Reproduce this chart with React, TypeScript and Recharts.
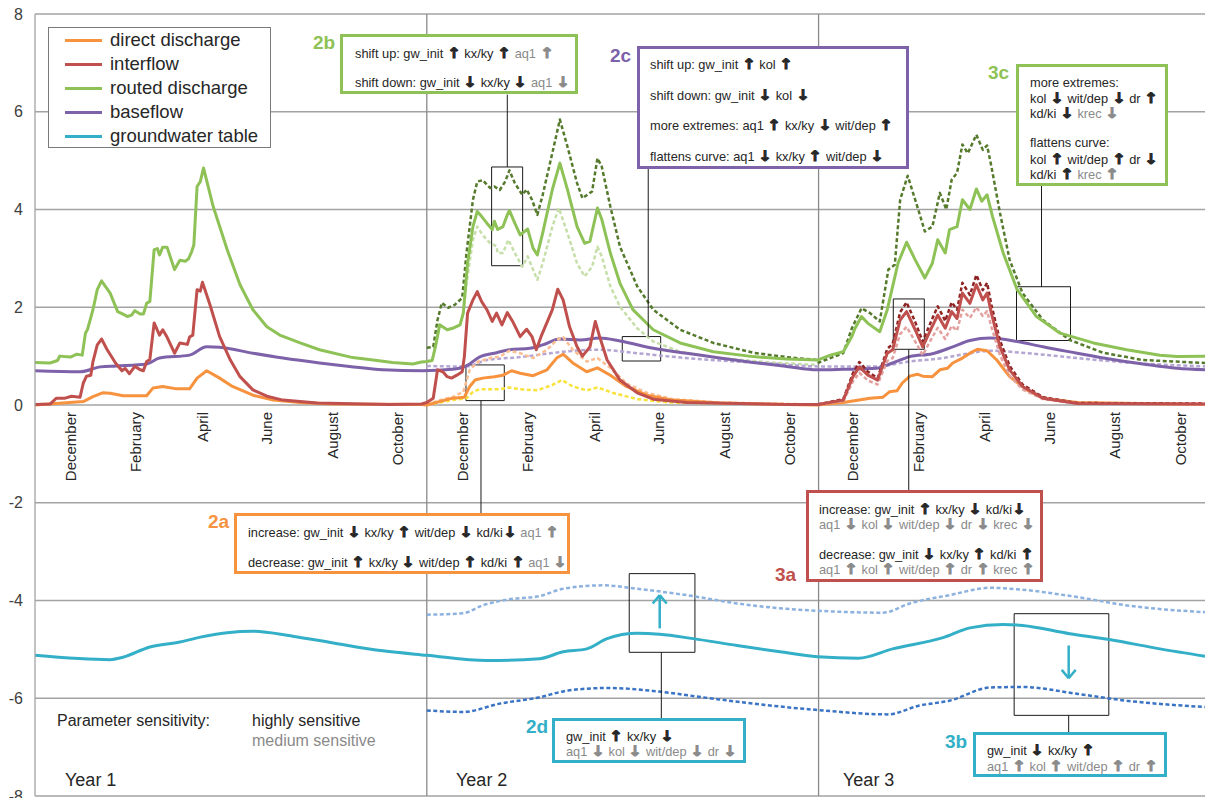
import React from 'react';
import {
  LineChart, Line, XAxis, YAxis, CartesianGrid, ReferenceLine, ReferenceArea, ReferenceDot,
} from 'recharts';

// ---------- data (x = day since start of year 1, y = value) ----------
const directDischarge = [
  [0,0],[45,0.07],[54,0.17],[63,0.25],[70,0.24],[82,0.19],[104,0.19],[110,0.35],[119,0.38],[132,0.33],[144,0.33],[151,0.55],[160,0.70],[172,0.55],[184,0.38],[203,0.20],[222,0.10],[247,0.05],[278,0.02],[360,0.01],
  [365,0],[389,0.14],[400,0.16],[405,0.38],[410,0.51],[417,0.55],[428,0.58],[436,0.61],[444,0.70],[452,0.65],[464,0.60],[477,0.72],[486,0.96],[492,1.04],[501,0.86],[514,0.68],[524,0.76],[536,0.61],[551,0.38],[570,0.20],[594,0.10],[638,0.04],[700,0.01],
  [729,0],[753,0.05],[778,0.14],[790,0.16],[796,0.27],[803,0.29],[808,0.45],[815,0.59],[822,0.63],[827,0.59],[836,0.58],[843,0.72],[850,0.75],[855,0.86],[864,0.96],[871,1.06],[878,1.14],[887,1.11],[896,0.92],[908,0.58],[924,0.31],[939,0.14],[971,0.05],[1090,0.01],
];
const directHigh = [
  [365,0],[377,0.10],[389,0.16],[399,0.27],[405,0.72],[413,0.89],[424,0.96],[433,0.99],[442,1.11],[452,1.06],[464,0.96],[477,1.13],[486,1.33],[492,1.39],[501,1.13],[514,0.89],[524,0.96],[536,0.76],[551,0.44],[570,0.25],[594,0.12],[638,0.05],[729,0.01],
];
const directLow = [
  [365,0],[389,0.10],[402,0.14],[408,0.27],[414,0.32],[433,0.32],[442,0.36],[452,0.32],[468,0.30],[482,0.41],[491,0.51],[501,0.38],[514,0.30],[524,0.36],[538,0.25],[561,0.12],[592,0.05],[729,0.01],
];
const interflow = [
  [0,0.01],[14,0.02],[20,0.14],[28,0.14],[34,0.18],[42,0.16],[45,0.45],[48,0.59],[52,0.61],[54,0.89],[58,1.23],[62,1.35],[67,1.14],[75,0.86],[81,0.70],[84,0.75],[88,0.64],[93,0.79],[98,0.72],[101,0.70],[104,0.89],[107,0.93],[111,1.68],[116,1.43],[119,1.54],[123,1.39],[130,1.06],[135,1.27],[142,1.24],[144,1.39],[147,1.43],[151,2.36],[154,2.33],[156,2.51],[163,2.05],[172,1.40],[182,0.92],[191,0.58],[203,0.31],[216,0.18],[231,0.10],[263,0.04],[330,0.01],[360,0.02],
  [365,0.05],[371,0.14],[375,0.72],[380,0.68],[384,0.58],[388,0.55],[393,0.61],[398,0.68],[400,0.99],[403,1.88],[408,2.15],[412,2.32],[416,2.12],[421,1.95],[426,1.71],[430,1.88],[435,1.64],[440,1.89],[445,1.71],[452,1.40],[458,1.55],[463,1.40],[467,1.13],[472,1.43],[478,1.74],[482,1.95],[487,2.37],[492,2.15],[498,1.60],[505,1.19],[510,1.00],[517,1.19],[522,1.71],[526,1.40],[533,0.92],[545,0.51],[561,0.25],[576,0.12],[607,0.05],[700,0.01],
  [729,0.01],[753,0.10],[762,0.58],[768,0.78],[776,0.61],[785,0.51],[794,1.06],[799,1.13],[806,1.74],[812,1.91],[820,1.54],[827,1.19],[835,1.57],[841,1.84],[848,1.57],[854,1.91],[859,1.77],[864,2.29],[871,2.08],[877,2.46],[883,2.15],[887,2.29],[891,1.88],[899,1.19],[908,0.72],[920,0.38],[939,0.14],[971,0.03],[1090,0.02],
];
const interflowHigh = [
  [729,0.01],[753,0.12],[762,0.65],[768,0.88],[776,0.68],[785,0.55],[794,1.15],[799,1.25],[806,1.90],[812,2.10],[820,1.70],[827,1.30],[835,1.72],[841,2.02],[848,1.72],[854,2.10],[859,1.95],[864,2.50],[871,2.25],[877,2.66],[883,2.35],[887,2.50],[891,2.05],[899,1.32],[908,0.80],[920,0.42],[939,0.16],[971,0.04],[1090,0.03],
];
const interflowLow = [
  [729,0],[753,0.08],[762,0.48],[768,0.66],[776,0.50],[785,0.42],[794,0.90],[799,0.96],[806,1.45],[812,1.60],[820,1.30],[827,1.02],[835,1.35],[841,1.58],[848,1.35],[854,1.62],[859,1.52],[864,1.95],[871,1.78],[877,2.00],[883,1.82],[887,1.92],[891,1.60],[899,1.02],[908,0.60],[920,0.32],[939,0.12],[971,0.03],[1090,0.01],
];
const routedDischarge = [
  [0,0.87],[14,0.86],[21,0.91],[23,1.00],[33,0.98],[39,1.04],[44,1.02],[47,1.47],[49,1.55],[54,1.95],[58,2.36],[62,2.54],[70,2.29],[77,1.91],[82,1.86],[86,1.81],[90,1.84],[93,1.93],[98,1.86],[101,1.86],[104,2.08],[107,2.12],[111,3.18],[114,3.20],[116,3.07],[119,3.23],[123,3.23],[130,2.77],[135,2.96],[140,2.94],[143,2.99],[146,3.14],[148,3.28],[151,4.47],[154,4.57],[157,4.85],[166,4.06],[179,3.18],[191,2.46],[203,1.95],[216,1.60],[228,1.43],[247,1.27],[265,1.13],[296,0.97],[315,0.92],[333,0.87],[352,0.84],[360,0.88],
  [365,0.89],[370,0.91],[373,1.19],[377,1.64],[384,1.54],[389,1.57],[396,1.64],[399,1.88],[403,2.90],[408,3.65],[412,3.96],[416,3.86],[421,3.72],[426,3.59],[428,3.76],[431,3.59],[436,3.65],[440,3.89],[442,3.98],[447,3.72],[452,3.48],[456,3.55],[459,3.60],[464,3.21],[468,3.07],[473,3.52],[482,4.41],[489,4.95],[496,4.41],[505,3.65],[512,3.31],[517,3.35],[524,4.03],[528,3.80],[536,3.11],[545,2.49],[557,1.95],[576,1.54],[601,1.27],[632,1.09],[669,0.99],[700,0.94],
  [729,0.92],[741,1.02],[753,1.09],[761,1.40],[764,1.57],[770,1.81],[776,1.67],[787,1.50],[794,1.95],[804,2.90],[812,3.33],[820,2.97],[829,2.60],[836,2.90],[841,3.38],[848,3.11],[852,3.59],[859,3.65],[864,4.20],[871,4.00],[877,4.42],[882,4.17],[887,4.30],[892,3.86],[902,3.11],[915,2.36],[933,1.81],[955,1.47],[986,1.27],[1017,1.13],[1048,1.02],[1064,0.99],[1090,1.00],
];
const routedHigh2 = [
  [365,1.17],[371,1.19],[375,1.74],[379,2.09],[385,1.99],[391,2.05],[398,2.19],[402,3.11],[408,4.20],[412,4.57],[417,4.60],[424,4.44],[428,4.47],[433,4.40],[438,4.57],[442,4.80],[447,4.54],[454,4.30],[458,4.41],[463,4.20],[468,3.89],[473,4.30],[482,5.16],[489,5.84],[496,5.29],[505,4.54],[510,4.23],[519,4.37],[524,5.05],[528,4.88],[536,4.06],[545,3.24],[561,2.43],[576,1.95],[601,1.54],[632,1.27],[669,1.07],[700,0.98],[729,0.92],
];
const routedLow2 = [
  [365,0.89],[370,0.91],[373,1.19],[377,1.64],[384,1.54],[389,1.57],[396,1.64],[399,1.88],[402,2.49],[408,3.38],[412,3.65],[417,3.48],[424,3.31],[430,3.25],[431,3.11],[436,3.11],[441,3.38],[447,3.11],[454,2.83],[459,3.04],[464,2.77],[468,2.56],[473,2.90],[482,3.65],[488,4.03],[496,3.52],[505,2.90],[512,2.63],[519,2.83],[524,3.24],[528,3.04],[536,2.43],[545,2.01],[561,1.57],[576,1.30],[601,1.09],[638,0.96],[685,0.87],[729,0.82],
];
const routedHigh3 = [
  [729,0.86],[741,0.96],[753,1.06],[761,1.57],[770,1.98],[778,1.88],[787,1.71],[795,2.77],[801,2.87],[806,4.20],[813,4.69],[822,4.06],[829,3.55],[836,3.65],[843,4.34],[849,4.00],[854,4.61],[859,4.75],[864,5.33],[869,5.15],[877,5.53],[883,5.22],[887,5.31],[891,4.88],[899,3.93],[908,2.97],[920,2.29],[939,1.74],[964,1.33],[995,1.07],[1032,0.92],[1090,0.86],
];
const baseflow = [
  [0,0.70],[42,0.68],[61,0.78],[76,0.80],[104,0.84],[116,0.96],[144,1.02],[160,1.19],[172,1.18],[203,1.06],[231,0.96],[265,0.86],[293,0.79],[324,0.72],[361,0.70],
  [389,0.73],[402,0.80],[414,0.98],[430,1.07],[442,1.13],[461,1.16],[473,1.23],[489,1.35],[508,1.33],[526,1.37],[545,1.31],[576,1.16],[607,1.06],[638,0.96],[669,0.87],[700,0.79],[729,0.72],
  [753,0.73],[784,0.75],[799,0.86],[815,0.99],[836,1.05],[855,1.19],[871,1.32],[890,1.37],[915,1.30],[939,1.19],[971,1.06],[1001,0.94],[1032,0.84],[1064,0.75],[1090,0.72],
];
const baseflowAlt = [
  [365,0.80],[389,0.79],[402,0.79],[421,0.92],[452,0.98],[477,1.05],[492,1.09],[526,1.13],[561,1.06],[592,0.99],[638,0.91],[685,0.85],[729,0.79],
  [784,0.79],[815,0.89],[846,0.96],[871,1.06],[890,1.11],[924,1.06],[971,0.96],[1017,0.87],[1090,0.79],
];
const groundwater = [
  [0,-5.12],[70,-5.21],[82,-5.16],[107,-4.95],[135,-4.85],[154,-4.75],[179,-4.66],[203,-4.63],[240,-4.73],[278,-4.87],[324,-5.03],[365,-5.12],
  [421,-5.23],[470,-5.19],[492,-5.05],[514,-4.99],[533,-4.78],[561,-4.67],[582,-4.69],[613,-4.78],[654,-4.92],[694,-5.05],[729,-5.15],
  [767,-5.18],[799,-4.99],[846,-4.76],[871,-4.56],[902,-4.49],[920,-4.51],[964,-4.68],[1001,-4.80],[1048,-4.99],[1090,-5.14],
];
const groundwaterHigh = [
  [365,-4.29],[399,-4.26],[417,-4.10],[440,-3.98],[470,-3.91],[492,-3.76],[529,-3.69],[561,-3.76],[607,-3.89],[654,-4.06],[700,-4.17],[729,-4.21],
  [790,-4.25],[815,-4.06],[852,-3.89],[890,-3.74],[920,-3.78],[971,-3.93],[1017,-4.10],[1090,-4.24],
];
const groundwaterLow = [
  [365,-6.25],[399,-6.28],[433,-6.11],[470,-5.98],[492,-5.86],[510,-5.81],[533,-5.79],[576,-5.85],[622,-5.98],[669,-6.11],[729,-6.24],
  [794,-6.33],[824,-6.15],[852,-6.05],[890,-5.78],[920,-5.77],[971,-5.91],[1017,-6.05],[1090,-6.18],
];

const yTicks = [-8, -6, -4, -2, 0, 2, 4, 6, 8];
const monthNames = ['December', 'February', 'April', 'June', 'August', 'October'];
const monthOffsets = [33, 94, 156, 216, 277, 338];
const yearStarts = [0, 365, 729];
const yearBoundaries = [365, 730];
const yearLabels = ['Year 1', 'Year 2', 'Year 3'];

const legendNames = ['direct discharge', 'interflow', 'routed discharge', 'baseflow', 'groundwater table'];

// zoom boxes [x1, x2, yTop, yBottom] and connectors [x, yFrom, yTo]
const zoomBoxes = [
  [425.4, 454.3, 4.87, 2.85],
  [401.5, 437.2, 0.82, 0.09],
  [547.1, 582.9, 1.40, 0.90],
  [553.6, 614.8, -3.45, -5.06],
  [799.6, 828.5, 2.17, 1.14],
  [914.4, 964.7, 2.42, 1.32],
  [912.2, 1000.4, -4.27, -6.35],
];
const connectors = [
  [440, 4.87, 6.35],
  [415.5, 0.09, -2.22],
  [571.3, 1.40, 4.85],
  [583.5, -5.06, -6.41],
  [814, 1.14, -1.74],
  [937.7, 2.42, 4.49],
  [963, -6.35, -6.71],
];
// cyan arrows [x, yTail, yTip]
const shiftArrows = [
  [582, -4.57, -3.89],
  [963, -4.92, -5.59],
];

// ---------- style ----------
const FONT = '"Liberation Sans", Arial, sans-serif';
const INK = '#262626';
const GRAYTXT = '#8a8a8a';
const C = {
  orange: '#F7923E', orangeLight: '#FBBE93', yellow: '#F8E23C',
  red: '#C0504D', redDark: '#8E2424', redLight: '#E2A19F',
  green: '#8EC257', greenDark: '#557A2C', greenLight: '#C6DFA9',
  purple: '#7E62A9', purpleLight: '#B5A6D3',
  cyan: '#33AFC7', blueLight: '#8DB2E0', blueDark: '#3A74C4',
};
const GRID = '#a3a3a3';

const pts = (a: number[][]) => a.map(([d, v]) => ({ d, v }));

type Note = {
  id: string; color: string; box: number[]; label: number[]; textX: number; firstY: number; step: number; lines: string[];
};
const notes: Note[] = [
  { id: '2b', color: C.green, box: [340, 34, 238, 60], label: [313, 43], textX: 355, firstY: 53.3, step: 29,
    lines: ['shift up: gw_init ↑ kx/ky ↑ |aq1 ↑', 'shift down: gw_init ↓ kx/ky ↓ |aq1 ↓'] },
  { id: '2c', color: C.purple, box: [637, 46, 272, 123], label: [610, 56], textX: 650, firstY: 64, step: 30.5,
    lines: ['shift up: gw_init ↑ kol ↑', 'shift down: gw_init ↓ kol ↓', 'more extremes: aq1 ↑ kx/ky ↓ wit/dep ↑', 'flattens curve: aq1 ↓ kx/ky ↑ wit/dep ↓'] },
  { id: '3c', color: C.green, box: [1016, 64, 152, 122], label: [988, 73], textX: 1030, firstY: 83, step: 15.1,
    lines: ['more extremes:', 'kol ↓ wit/dep ↓ dr ↑', 'kd/ki ↓ |krec ↓', '', 'flattens curve:', 'kol ↑ wit/dep ↑ dr ↓', 'kd/ki ↑ |krec ↑'] },
  { id: '2a', color: C.orange, box: [234, 513, 336, 61], label: [208, 522], textX: 248, firstY: 532, step: 30,
    lines: ['increase: gw_init ↓ kx/ky ↑ wit/dep ↓ kd/ki↓ |aq1 ↑', 'decrease: gw_init ↑ kx/ky ↓ wit/dep ↑ kd/ki ↑ |aq1 ↓'] },
  { id: '3a', color: C.red, box: [806, 490, 237, 92], label: [775, 575], textX: 819, firstY: 509, step: 15,
    lines: ['increase: gw_init ↑ kx/ky ↓ kd/ki↓', '|aq1 ↓ kol ↓ wit/dep ↓ dr ↓ krec ↓', '', 'decrease: gw_init ↓ kx/ky ↑ kd/ki ↑', '|aq1 ↑ kol ↑ wit/dep ↑ dr ↑ krec ↑'] },
  { id: '2d', color: C.cyan, box: [552, 718, 194, 45], label: [526, 727], textX: 566, firstY: 735.7, step: 15,
    lines: ['gw_init ↑ kx/ky ↓', '|aq1 ↓ kol ↓ wit/dep ↓ dr ↓'] },
  { id: '3b', color: C.cyan, box: [973, 732, 194, 45], label: [945, 742], textX: 987, firstY: 750, step: 15.5,
    lines: ['gw_init ↓ kx/ky ↑', '|aq1 ↑ kol ↑ wit/dep ↑ dr ↑'] },
];

function Seg({ s, color }: { s: string; color: string }) {
  return (
    <>
      {s.split(/([↑↓])/).map((t, i) =>
        t === '↑' || t === '↓'
          ? <span key={i} style={{ color, fontFamily: '"DejaVu Sans", sans-serif', fontWeight: 700, fontSize: '1.12em', WebkitTextStroke: `0.9px ${color}`, display: 'inline-block', transform: 'scaleX(1.15)', margin: '0 1px' }}>{t}</span>
          : <span key={i} style={{ color }}>{t}</span>)}
    </>
  );
}

function RichLine({ text }: { text: string }) {
  const [main, gray] = text.split('|');
  return (
    <>
      <Seg s={main} color={INK} />
      {gray !== undefined && <Seg s={gray} color={GRAYTXT} />}
    </>
  );
}

function NoteBox({ n }: { n: Note }) {
  const [l, t, w, h] = n.box;
  return (
    <>
      <div style={{ position: 'absolute', left: l, top: t, width: w, height: h, boxSizing: 'border-box', border: `3px solid ${n.color}`, background: '#fff' }} />
      <div style={{ position: 'absolute', left: n.label[0], top: n.label[1] - 12, height: 24, lineHeight: '24px', fontSize: 19, fontWeight: 700, color: n.color }}>{n.id}</div>
      {n.lines.map((ln, i) => (
        <div key={i} style={{ position: 'absolute', left: n.textX, top: n.firstY + i * n.step - 8, height: 16, lineHeight: '16px', fontSize: 12.8, whiteSpace: 'pre' }}>
          <RichLine text={ln} />
        </div>
      ))}
    </>
  );
}

const MonthTick = (label: string) => (props: any) => {
  const { cx, cy } = props;
  const y = cy + 7;
  return (
    <text x={cx} y={y} transform={`rotate(-90 ${cx} ${y})`} textAnchor="end" dominantBaseline="central"
      fontSize={15} fill={INK} fontFamily={FONT}>{label}</text>
  );
};

const lineBase = { dot: false, activeDot: false, isAnimationActive: false, dataKey: 'v', strokeLinejoin: 'round' as const };
const DASH = '4 2.5';

export default function App() {
  const legendColors = [C.orange, C.red, C.green, C.purple, C.cyan];
  return (
    <div style={{ position: 'absolute', left: 0, top: 0, width: 1205, height: 798, background: '#fff', overflow: 'hidden', fontFamily: FONT }}>
      <LineChart width={1205} height={798} margin={{ top: 14, right: 0, bottom: 2, left: 0 }}>
        <CartesianGrid horizontal vertical={false} stroke={GRID} strokeWidth={1.3} />
        <XAxis type="number" dataKey="d" domain={[0, 1090]} hide allowDataOverflow />
        <YAxis type="number" domain={[-8, 8]} ticks={yTicks} interval={0} width={35} tickLine={false}
          axisLine={{ stroke: GRID, strokeWidth: 1.3 }} tickMargin={6}
          tick={{ fontSize: 16, fill: '#404040', fontFamily: FONT }} allowDataOverflow />
        {yearBoundaries.map((x) => <ReferenceLine key={x} x={x} stroke="#8a8a8a" strokeWidth={1.3} />)}

        <Line {...lineBase} data={pts(groundwaterHigh)} type="monotone" stroke={C.blueLight} strokeWidth={2.5} strokeDasharray={DASH} />
        <Line {...lineBase} data={pts(groundwaterLow)} type="monotone" stroke={C.blueDark} strokeWidth={2.5} strokeDasharray={DASH} />
        <Line {...lineBase} data={pts(groundwater)} type="monotone" stroke={C.cyan} strokeWidth={3} />

        <Line {...lineBase} data={pts(routedLow2)} type="linear" stroke={C.greenLight} strokeWidth={2.5} strokeDasharray={DASH} />
        <Line {...lineBase} data={pts(routedHigh2)} type="linear" stroke={C.greenDark} strokeWidth={2.5} strokeDasharray={DASH} />
        <Line {...lineBase} data={pts(routedHigh3)} type="linear" stroke={C.greenDark} strokeWidth={2.5} strokeDasharray={DASH} />
        <Line {...lineBase} data={pts(routedDischarge)} type="linear" stroke={C.green} strokeWidth={3} />

        <Line {...lineBase} data={pts(baseflowAlt)} type="monotone" stroke={C.purpleLight} strokeWidth={2.5} strokeDasharray={DASH} />
        <Line {...lineBase} data={pts(baseflow)} type="monotone" stroke={C.purple} strokeWidth={3} />

        <Line {...lineBase} data={pts(directLow)} type="linear" stroke={C.yellow} strokeWidth={2.5} strokeDasharray={DASH} />
        <Line {...lineBase} data={pts(directHigh)} type="linear" stroke={C.orangeLight} strokeWidth={2.5} strokeDasharray={DASH} />
        <Line {...lineBase} data={pts(directDischarge)} type="linear" stroke={C.orange} strokeWidth={3} />

        <Line {...lineBase} data={pts(interflowLow)} type="linear" stroke={C.redLight} strokeWidth={2.5} strokeDasharray={DASH} />
        <Line {...lineBase} data={pts(interflowHigh)} type="linear" stroke={C.redDark} strokeWidth={2.5} strokeDasharray={DASH} />
        <Line {...lineBase} data={pts(interflow)} type="linear" stroke={C.red} strokeWidth={3} />

        {zoomBoxes.map(([x1, x2, y1, y2], i) => (
          <ReferenceArea key={'b' + i} x1={x1} x2={x2} y1={y2} y2={y1} fill="none" fillOpacity={0} stroke="#1a1a1a" strokeWidth={1} ifOverflow="visible" />
        ))}
        {connectors.map(([x, a, b], i) => (
          <ReferenceLine key={'c' + i} segment={[{ x, y: a }, { x, y: b }]} stroke="#1a1a1a" strokeWidth={1} ifOverflow="visible" />
        ))}
        {shiftArrows.map(([x, a, b], i) => {
          const back = b > a ? -0.17 : 0.17;
          return (
            <React.Fragment key={'a' + i}>
              <ReferenceLine segment={[{ x, y: a }, { x, y: b }]} stroke={C.cyan} strokeWidth={2.5} ifOverflow="visible" />
              <ReferenceLine segment={[{ x: x - 6.5, y: b + back }, { x, y: b }]} stroke={C.cyan} strokeWidth={2.5} ifOverflow="visible" />
              <ReferenceLine segment={[{ x: x + 6.5, y: b + back }, { x, y: b }]} stroke={C.cyan} strokeWidth={2.5} ifOverflow="visible" />
            </React.Fragment>
          );
        })}
        {yearStarts.flatMap((ys, yi) => monthNames.map((m, mi) => (
          <ReferenceDot key={`m${yi}-${mi}`} x={ys + monthOffsets[mi]} y={0} r={0} ifOverflow="visible" shape={MonthTick(m)} />
        )))}
      </LineChart>

      {/* legend */}
      <div style={{ position: 'absolute', left: 48, top: 27, width: 223, height: 121, boxSizing: 'border-box', border: '1px solid #7a7a7a', background: '#fff' }} />
      {legendNames.map((name, i) => (
        <React.Fragment key={name}>
          <div style={{ position: 'absolute', left: 65, top: 40 + i * 24 - 1.5, width: 37, height: 3, background: legendColors[i] }} />
          <div style={{ position: 'absolute', left: 110, top: 40 + i * 24 - 12, height: 24, lineHeight: '24px', fontSize: 18.5, color: INK, whiteSpace: 'pre' }}>{name}</div>
        </React.Fragment>
      ))}

      {notes.map((n) => <NoteBox key={n.id} n={n} />)}

      <div style={{ position: 'absolute', left: 57, top: 711, lineHeight: '20px', fontSize: 16, color: INK, whiteSpace: 'pre' }}>Parameter sensitivity:</div>
      <div style={{ position: 'absolute', left: 252, top: 711, lineHeight: '20px', fontSize: 16, color: INK, whiteSpace: 'pre' }}>highly sensitive</div>
      <div style={{ position: 'absolute', left: 252, top: 731, lineHeight: '20px', fontSize: 16, color: GRAYTXT, whiteSpace: 'pre' }}>medium sensitive</div>

      {yearLabels.map((y, i) => (
        <div key={y} style={{ position: 'absolute', left: [65, 456, 843][i], top: 769, lineHeight: '22px', fontSize: 18, color: INK, whiteSpace: 'pre' }}>{y}</div>
      ))}
    </div>
  );
}
